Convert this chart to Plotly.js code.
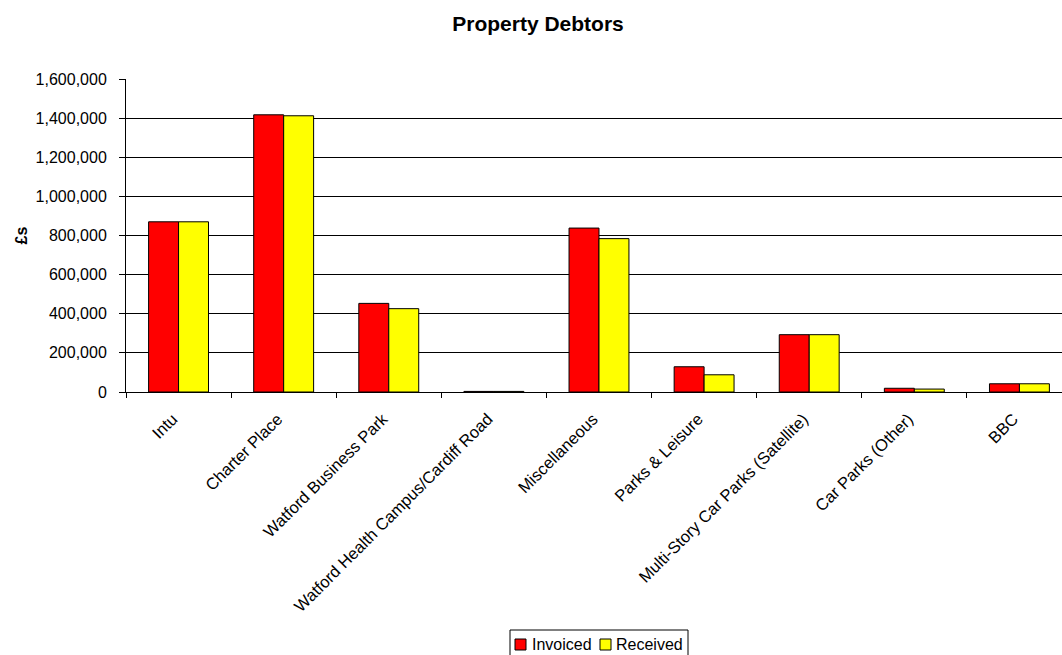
<!DOCTYPE html>
<html>
<head>
<meta charset="utf-8">
<script src="https://cdn.plot.ly/plotly-3.0.1.min.js"></script>
<style>html,body{margin:0;padding:0;background:#fff;overflow:hidden;}#chart{width:1062px;height:655px;}</style>
</head>
<body>
<div id="chart"></div>
<script>
const categories = ["Intu", "Charter Place", "Watford Business Park", "Watford Health Campus/Cardiff Road", "Miscellaneous", "Parks & Leisure", "Multi-Story Car Parks (Satellite)", "Car Parks (Other)", "BBC"];
const invoiced = [870000, 1417000, 453000, 3000, 838000, 129000, 293000, 19000, 42000];
const received = [870000, 1412000, 426000, 3000, 784000, 88000, 293000, 15000, 42000];
const seriesNames = ["Invoiced", "Received"];
const seriesColors = ["#ff0000", "#ffff00"];

const font = "Liberation Sans, Arial, sans-serif";
const W = 1062, H = 655, ML = 126, MT = 79, MB = 263;
const plotW = W - ML, plotH = H - MT - MB;
const px = v => (v - ML) / plotW;          // pixel x -> paper x
const py = v => (H - MB - v) / plotH;      // pixel y -> paper y

const traces = seriesNames.map((n, i) => ({
  type: "bar", name: n, x: categories, y: i === 0 ? invoiced : received,
  marker: {color: seriesColors[i], line: {color: "#000", width: 1}}, showlegend: false
}));

// custom compact legend (Excel style)
const legBox = {x0: 510, x1: 688, y0: 630, y1: 670};
const legItems = [{sq: 515, tx: 530}, {sq: 600, tx: 614}];
const shapes = [{type: "rect", xref: "paper", yref: "paper", x0: px(legBox.x0), x1: px(legBox.x1), y0: py(legBox.y1), y1: py(legBox.y0),
                 line: {color: "#000", width: 1}, fillcolor: "#fff", layer: "above"}];
const annotations = [];
legItems.forEach((it, i) => {
  shapes.push({type: "rect", xref: "paper", yref: "paper", x0: px(it.sq), x1: px(it.sq + 11), y0: py(650), y1: py(639),
               line: {color: "#000", width: 1}, fillcolor: seriesColors[i], layer: "above"});
  annotations.push({xref: "paper", yref: "paper", x: px(it.tx), y: py(644.5), xanchor: "left", yanchor: "middle",
                    text: seriesNames[i], showarrow: false, font: {family: font, size: 16, color: "#000"}});
});

const layout = {
  width: W, height: H,
  margin: {l: ML, r: 0, t: MT, b: MB},
  paper_bgcolor: "#fff", plot_bgcolor: "#fff",
  font: {family: font, size: 16, color: "#000"},
  title: {text: "<b>Property Debtors</b>", font: {family: font, size: 21, color: "#000"}, xref: "container", x: 538 / W, xanchor: "center", yref: "container", y: 1 - 24 / H, yanchor: "middle"},
  barmode: "group", bargap: 0.43, bargroupgap: 0,
  xaxis: {type: "category", range: [-0.5, 8.405], automargin: false, showline: true, linecolor: "#000", linewidth: 1,
          ticks: "outside", tickson: "boundaries", ticklen: 5, tickcolor: "#000", tickangle: -45,
          ticklabelstandoff: 10, ticklabelshift: -6,
          tickfont: {family: font, size: 16.5, color: "#000"}, showgrid: false, fixedrange: true},
  yaxis: {range: [0, 1600000], dtick: 200000, tickformat: ",d", automargin: false, showline: true, linecolor: "#000", linewidth: 1,
          ticks: "outside", ticklen: 6, tickcolor: "#000", ticklabelstandoff: 9, showgrid: true, gridcolor: "#000", gridwidth: 1,
          zeroline: false, tickfont: {family: font, size: 16, color: "#000"},
          title: {text: "<b>£s</b>", font: {family: font, size: 16, color: "#000"}, standoff: 4}},
  showlegend: false,
  shapes: shapes,
  annotations: annotations
};
Plotly.newPlot("chart", traces, layout, {displayModeBar: false, staticPlot: true});
</script>
</body>
</html>
